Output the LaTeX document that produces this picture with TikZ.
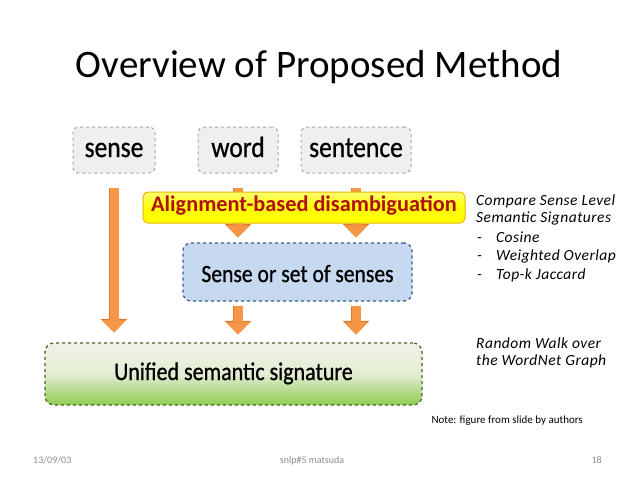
\documentclass[tikz,border=0pt]{standalone}
\usepackage{fontspec}
\usepackage{graphicx}
\setmainfont{Carlito}
\usetikzlibrary{arrows.meta}
\definecolor{arrowfill}{HTML}{F79646}
\definecolor{arrowline}{HTML}{E07A30}
\definecolor{grayfill}{HTML}{EFEFEF}
\definecolor{grayline}{HTML}{A6A6A6}
\definecolor{yellowfill}{HTML}{FFFF00}
\definecolor{yellowtop}{HTML}{FFFF70}
\definecolor{yellowline}{HTML}{E6B800}
\definecolor{redtext}{HTML}{B01010}
\definecolor{bluefill}{HTML}{C6D9F1}
\definecolor{blueline}{HTML}{385D8A}
\definecolor{greentop}{HTML}{F0F3E8}
\definecolor{greenmid}{HTML}{E3EDD3}
\definecolor{greenbot}{HTML}{8FCB50}
\definecolor{greenline}{HTML}{4F6228}
\definecolor{footgray}{HTML}{8C8C8C}
\newcommand{\tallx}[1]{\scalebox{1}[1.15]{#1}}
\tikzset{
  inbox/.style={draw=grayline, fill=grayfill, dashed, line width=1pt, rounded corners=6pt,
    minimum height=46pt, inner sep=0pt, text height=19pt, text depth=5pt,
    font=\fontsize{25.5}{28}\selectfont\addfontfeature{FakeBold=0.8}},
  yellowbox/.style={draw=yellowline, top color=yellowtop, bottom color=yellowfill, middle color=yellowfill,
    line width=1pt, rounded corners=5pt,
    minimum width=322pt, minimum height=31pt, inner sep=0pt, text=redtext,
    text height=15pt, text depth=6.6pt,
    font=\fontsize{22.3}{24}\selectfont\bfseries},
  bluebox/.style={draw=blueline, fill=bluefill, dashed, line width=1.3pt, rounded corners=8pt,
    minimum width=229pt, minimum height=58pt, inner sep=0pt, text height=24pt, text depth=4pt,
    font=\fontsize{21.6}{25}\selectfont\addfontfeature{FakeBold=0.8}},
  greenbox/.style={draw=greenline, top color=greentop, bottom color=greenbot, middle color=greenmid,
    dashed, line width=1.3pt, rounded corners=9pt,
    minimum width=377pt, minimum height=62pt, inner sep=0pt, text height=18pt, text depth=6pt,
    font=\fontsize{22}{26}\selectfont\addfontfeature{FakeBold=1}},
  fatarrow/.style={
    preaction={draw=arrowline, line width=10.6pt, -{Triangle[width=26.5pt,length=13.5pt,line width=0.4pt]}},
    draw=arrowfill, line width=9pt,
    -{Triangle[width=24pt,length=12pt,line width=0.4pt]}},
  sidetext/.style={anchor=base west, inner sep=0pt,
    font=\fontsize{15.5}{17}\selectfont\itshape\addfontfeature{LetterSpace=3}},
  foot/.style={anchor=base, inner sep=0pt, text=footgray, font=\fontsize{10}{12}\selectfont}
}
\begin{document}
\begin{tikzpicture}[x=1pt,y=-1pt]
\useasboundingbox[fill=white] (0,0) rectangle (638,479);
\node[anchor=base, inner sep=0pt, font=\fontsize{39}{44}\selectfont] (title) at (319,77) {Overview of Proposed Method};
\node[inbox, minimum width=82pt] (sense) at (114,150) {\tallx{sense}};
\node[inbox, minimum width=80pt] (word) at (238,150) {\tallx{word}};
\node[inbox, minimum width=110pt] (sentence) at (356,150) {\tallx{sentence}};
\node[bluebox] (blue) at (297.5,272) {\tallx{Sense or set of senses}};
\node[greenbox] (green) at (233.5,374) {\tallx{Unified semantic signature}};
% arrows
\draw[fatarrow, shorten <=14pt, shorten >=10pt] (sense.south) -- (sense.south |- green.north);
\draw[fatarrow, shorten <=14pt, shorten >=5pt] (word.south) -- (word.south |- blue.north);
\draw[fatarrow, shorten <=14pt, shorten >=5pt] (sentence.south) -- (sentence.south |- blue.north);
\draw[fatarrow, shorten <=4pt, shorten >=8pt] (blue.south -| word.south) -- (word.south |- green.north);
\draw[fatarrow, shorten <=4pt, shorten >=8pt] (blue.south -| sentence.south) -- (sentence.south |- green.north);
\node[yellowbox] (yellow) at (304,207.5) {Alignment-based disambiguation};
% side texts
\node[sidetext] (c1) at (476,205) {Compare Sense Level};
\node[sidetext] (c2) at (476,222.5) {Semantic Signatures};
\node[sidetext] (d1) at (477,242) {-};
\node[sidetext] (i1) at (496,242) {Cosine};
\node[sidetext] (d2) at (477,260.5) {-};
\node[sidetext] (i2) at (496,260.5) {Weighted Overlap};
\node[sidetext] (d3) at (477,279) {-};
\node[sidetext] (i3) at (496,279) {Top-k Jaccard};
\node[sidetext] (r1) at (476,348) {Random Walk over};
\node[sidetext] (r2) at (476,365.5) {the WordNet Graph};
\node[anchor=base east, inner sep=0pt, font=\fontsize{11}{13}\selectfont] (note) at (583,423) {Note: figure from slide by authors};
\node[foot, anchor=base west] (date) at (33,463) {13/09/03};
\node[foot] (mid) at (312,463) {snlp\#5 matsuda};
\node[foot, anchor=base east] (page) at (602,463) {18};
\end{tikzpicture}
\end{document}
